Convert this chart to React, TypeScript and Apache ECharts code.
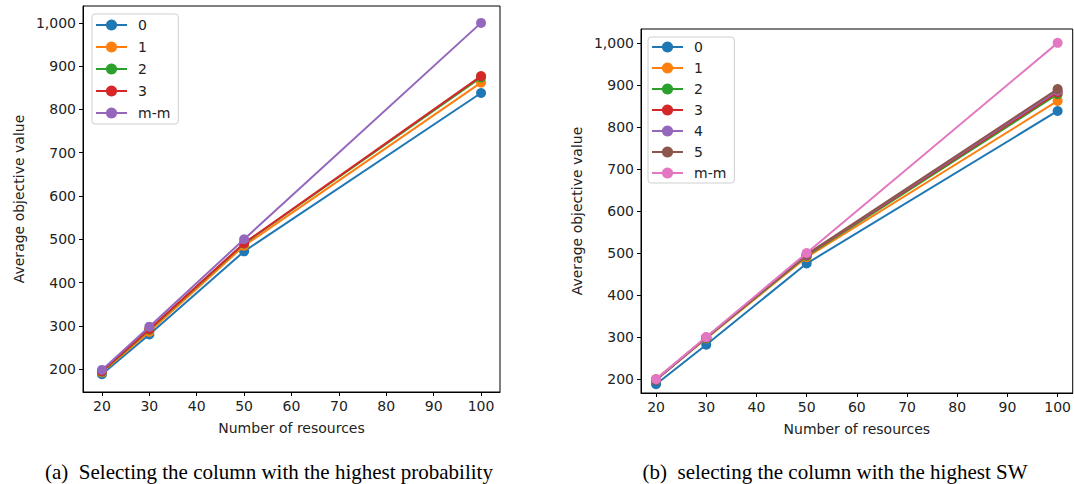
import React, { useEffect, useRef } from "react";
import * as echarts from "echarts";

const resources = [20, 30, 50, 100];
const yTicks = [200, 300, 400, 500, 600, 700, 800, 900, 1000];
const xTicks = [20, 30, 40, 50, 60, 70, 80, 90, 100];

// (a) Selecting the column with the highest probability
const leftNames = ["0", "1", "2", "3", "m-m"];
const left0 = [188, 280, 472, 838];
const left1 = [192, 286, 485, 862];
const left2 = [194, 291, 490, 874];
const left3 = [195, 292, 491, 877];
const leftMM = [198, 298, 500, 1000];

// (b) selecting the column with the highest SW
const rightNames = ["0", "1", "2", "3", "4", "5", "m-m"];
const right0 = [188, 282, 475, 838];
const right1 = [200, 297, 490, 862];
const right2 = [198, 298, 493, 878];
const right3 = [198, 299, 495, 882];
const right4 = [199, 299, 496, 886];
const right5 = [199, 299, 497, 890];
const rightMM = [200, 300, 500, 1000];

const leftColors = ["#1f77b4", "#ff7f0e", "#2ca02c", "#d62728", "#9467bd"];
const rightColors = ["#1f77b4", "#ff7f0e", "#2ca02c", "#d62728", "#9467bd", "#8c564b", "#e377c2"];

const FONT = "DejaVu Sans";
const FS = 14;

function fmt(v: number) {
  return v >= 1000 ? v.toLocaleString("en-US") : String(v);
}

export default function App() {
  const ref = useRef<HTMLDivElement>(null);
  useEffect(() => {
    if (!ref.current) return;
    const chart = echarts.init(ref.current, null, { renderer: "svg" });
    const leftData = [left0, left1, left2, left3, leftMM];
    const rightData = [right0, right1, right2, right3, right4, right5, rightMM];

    const mkX = (gi: number, min: number, max: number) => ({
      type: "value",
      gridIndex: gi,
      min,
      max,
      name: "Number of resources",
      nameLocation: "middle",
      nameGap: 29,
      nameTextStyle: { fontFamily: FONT, fontSize: FS, color: "#222" },
      axisLine: { show: true, onZero: false, lineStyle: { color: "#000", width: 1 } },
      axisTick: { show: true, inside: false, length: 4, customValues: xTicks, lineStyle: { color: "#000" } },
      axisLabel: { customValues: xTicks, fontFamily: FONT, fontSize: FS, color: "#222", margin: 7 },
      splitLine: { show: false },
    });
    const mkY = (gi: number, min: number, max: number, gap: number) => ({
      type: "value",
      gridIndex: gi,
      min,
      max,
      name: "Average objective value",
      nameLocation: "middle",
      nameGap: gap,
      nameTextStyle: { fontFamily: FONT, fontSize: FS, color: "#222" },
      axisLine: { show: true, onZero: false, lineStyle: { color: "#000", width: 1 } },
      axisTick: { show: true, inside: false, length: 4, customValues: yTicks, lineStyle: { color: "#000" } },
      axisLabel: { customValues: yTicks, formatter: (v: number) => fmt(v), fontFamily: FONT, fontSize: FS, color: "#222", margin: 7 },
      splitLine: { show: false },
    });

    const series: any[] = [];
    leftNames.forEach((n, i) => {
      series.push({
        type: "line",
        name: n,
        xAxisIndex: 0,
        yAxisIndex: 0,
        data: resources.map((x, k) => [x, leftData[i][k]]),
        symbol: "circle",
        symbolSize: 10,
        lineStyle: { width: 2, color: leftColors[i] },
        itemStyle: { color: leftColors[i] },
        z: 2 + i,
      });
    });
    rightNames.forEach((n, i) => {
      series.push({
        type: "line",
        name: "r" + n,
        xAxisIndex: 1,
        yAxisIndex: 1,
        data: resources.map((x, k) => [x, rightData[i][k]]),
        symbol: "circle",
        symbolSize: 10,
        lineStyle: { width: 2, color: rightColors[i] },
        itemStyle: { color: rightColors[i] },
        z: 2 + i,
      });
    });

    const legendCommon = {
      orient: "vertical",
      itemWidth: 31,
      itemHeight: 14,
      borderColor: "#d0d0d0",
      borderWidth: 1,
      borderRadius: 3,
      backgroundColor: "#fff",
      textStyle: { fontFamily: FONT, fontSize: FS, color: "#222", padding: [0, 0, 0, 6] },
    };

    chart.setOption({
      animation: false,
      grid: [
        { left: 83, top: 6, width: 417, height: 386, show: true, borderColor: "#000", borderWidth: 1, backgroundColor: "transparent" },
        { left: 641, top: 29, width: 432, height: 364, show: true, borderColor: "#000", borderWidth: 1, backgroundColor: "transparent" },
      ],
      xAxis: [mkX(0, 16, 104), mkX(1, 17, 103)],
      yAxis: [mkY(0, 147, 1039, 57), mkY(1, 167, 1033, 57)],
      legend: [
        {
          ...legendCommon,
          left: 92,
          top: 14,
          itemGap: 8,
          padding: [4, 8, 4, 3],
          data: leftNames,
        },
        {
          ...legendCommon,
          left: 648,
          top: 37,
          itemGap: 7,
          padding: [3, 8, 3, 3],
          data: rightNames.map((n) => "r" + n),
          formatter: (n: string) => n.slice(1),
        },
      ],
      title: [
        {
          text: "(a)  Selecting the column with the highest probability",
          left: 264,
          textAlign: "center",
          top: 456,
          textStyle: { fontFamily: "Liberation Serif", fontSize: 21, fontWeight: "normal", color: "#000" },
        },
        {
          text: "(b)  selecting the column with the highest SW",
          left: 830,
          textAlign: "center",
          top: 456,
          textStyle: { fontFamily: "Liberation Serif", fontSize: 21, fontWeight: "normal", color: "#000" },
        },
      ],
      series,
    });
    return () => chart.dispose();
  }, []);
  return (
    <div
      ref={ref}
      style={{ position: "fixed", left: 0, top: 0, width: 1074, height: 484, background: "#fff" }}
    />
  );
}
